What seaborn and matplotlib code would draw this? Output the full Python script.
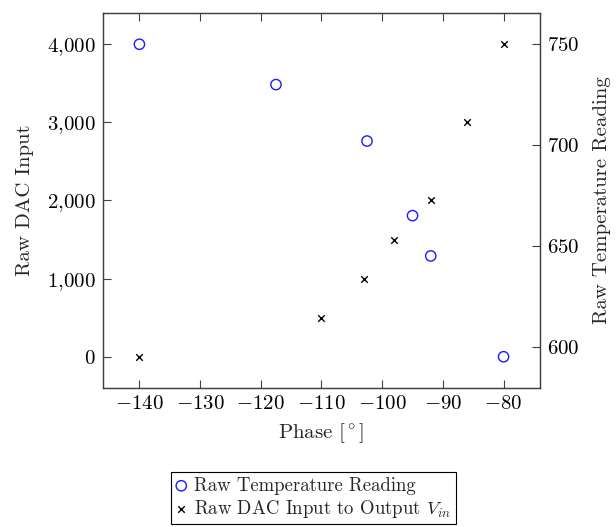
import matplotlib
matplotlib.use("Agg")
import matplotlib.pyplot as plt
import seaborn as sns
import pandas as pd
import numpy as np

# ---- data ----
phase_dac = [-140, -110, -103, -98, -92, -86, -80]
dac_input = [0, 500, 1000, 1500, 2000, 3000, 4000]

phase_temp = [-140, -117.5, -102.5, -95, -92, -80]
temp_reading = [750, 730, 702, 665, 645, 595]

x_ticks = [-140, -130, -120, -110, -100, -90, -80]
x_tick_labels = [r"$-140$", r"$-130$", r"$-120$", r"$-110$", r"$-100$", r"$-90$", r"$-80$"]
y_ticks = [0, 1000, 2000, 3000, 4000]
y_tick_labels = [r"$0$", r"$1{,}000$", r"$2{,}000$", r"$3{,}000$", r"$4{,}000$"]
y2_ticks = [600, 650, 700, 750]
y2_tick_labels = [r"$600$", r"$650$", r"$700$", r"$750$"]

df_dac = pd.DataFrame({"phase": phase_dac, "dac": dac_input})
df_temp = pd.DataFrame({"phase": phase_temp, "temp": temp_reading})

sns.set_theme(style="white")
plt.rcParams.update({
    "font.family": "serif",
    "font.serif": ["cmr10", "DejaVu Serif"],
    "mathtext.fontset": "cm",
    "axes.formatter.use_mathtext": True,
    "axes.unicode_minus": False,
    "axes.edgecolor": "#404040",
    "axes.linewidth": 0.9,
    "xtick.color": "#404040",
    "ytick.color": "#404040",
    "xtick.labelcolor": "black",
    "ytick.labelcolor": "black",
})

FS = 15

fig = plt.figure(figsize=(6.16, 5.27), dpi=100)
ax = fig.add_axes([0.1672, 0.2638, 0.7094, 0.7115])
ax2 = ax.twinx()

sns.scatterplot(data=df_dac, x="phase", y="dac", ax=ax, marker="x", color="black",
                s=22, linewidth=1.0, label=r"Raw DAC Input to Output $V_{in}$", legend=False, zorder=3)
sns.scatterplot(data=df_temp, x="phase", y="temp", ax=ax2, marker="o", facecolor="none",
                edgecolor="#1a1aff", s=55, linewidth=1.0, label="Raw Temperature Reading",
                legend=False, zorder=3)

ax.set_xlim(-146, -74)
ax.set_ylim(-400, 4400)
ax2.set_ylim(579.5, 765.5)

ax.set_xticks(x_ticks)
ax.set_xticklabels(x_tick_labels, fontsize=FS)
ax.set_yticks(y_ticks)
ax.set_yticklabels(y_tick_labels, fontsize=FS)
ax2.set_yticks(y2_ticks)
ax2.set_yticklabels(y2_tick_labels, fontsize=FS)

ax.tick_params(axis="x", direction="in", top=True, bottom=True, length=6, width=0.8, pad=5)
ax.tick_params(axis="y", direction="in", left=True, right=False, length=6, width=0.8, pad=5)
ax2.tick_params(axis="y", direction="in", right=True, left=False, length=6, width=0.8, pad=5)

ax.set_xlabel(r"Phase [$^\circ$]", fontsize=FS, labelpad=6)
ax.set_ylabel("Raw DAC Input", fontsize=FS, labelpad=10)
ax2.set_ylabel("Raw Temperature Reading", fontsize=FS, labelpad=10)

for a in (ax, ax2):
    for s in a.spines.values():
        s.set_visible(True)
        s.set_color("#404040")

h1, l1 = ax2.get_legend_handles_labels()
h2, l2 = ax.get_legend_handles_labels()
leg = fig.legend(h1 + h2, l1 + l2, loc="upper center", bbox_to_anchor=(0.509, 1 - 472 / 527),
                 frameon=True, fancybox=False, edgecolor="black", fontsize=13.5,
                 handlelength=0.6, handletextpad=0.4, borderpad=0.25, labelspacing=0.15,
                 borderaxespad=0, framealpha=1)
leg.get_frame().set_linewidth(0.8)

fig.savefig("out.png", dpi=100)
